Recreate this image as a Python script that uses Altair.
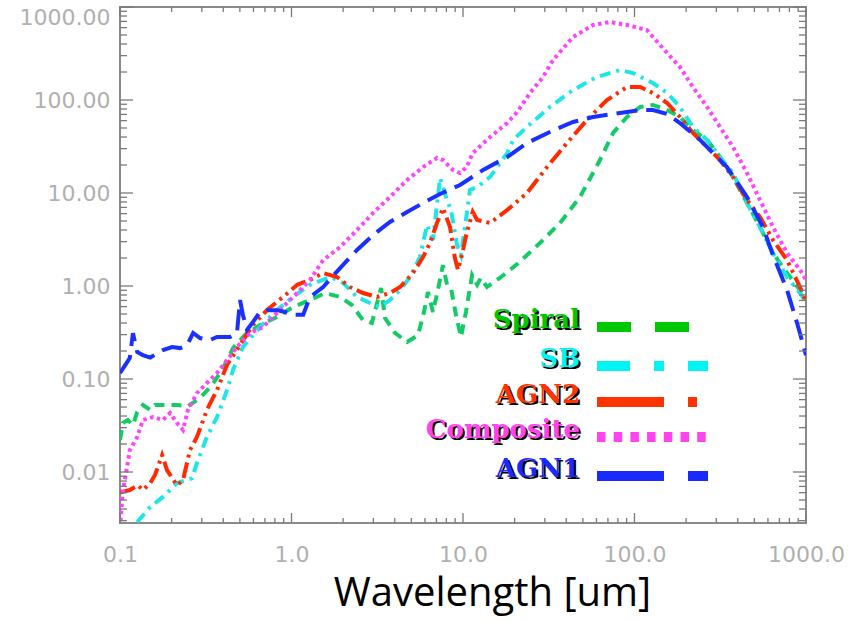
import altair as alt
import pandas as pd

W, H = 686, 516

# ---------------- data (wavelength in um, flux in arbitrary units) ----------------
spiral_wl = [0.100, 0.104, 0.111, 0.119, 0.126, 0.136, 0.150, 0.160, 0.183, 0.215, 0.249, 0.293,
             0.344, 0.394, 0.456, 0.535, 0.655, 0.823, 1.02, 1.28, 1.57, 1.92, 2.25, 2.61, 2.94,
             3.19, 3.33, 3.51, 4.01, 4.72, 5.47, 5.92, 6.25, 6.68, 7.14, 7.64, 8.07, 8.51, 9.10,
             9.73, 10.4, 11.3, 12.1, 12.7, 13.8, 16.4, 20.7, 28.1, 36.8, 48.1, 62.9, 75.0, 90.4,
             108, 128, 155, 184, 219, 265, 315, 375, 453, 539, 642, 775, 923, 1000]
spiral_fl = [0.0221, 0.0336, 0.0362, 0.032, 0.0442, 0.0525, 0.0464, 0.0525, 0.0525, 0.0525, 0.051,
             0.0625, 0.0861, 0.125, 0.215, 0.297, 0.381, 0.464, 0.594, 0.707, 0.841, 0.762, 0.625,
             0.43, 0.40, 0.707, 0.95, 0.453, 0.313, 0.25, 0.297, 0.525, 0.862, 0.525, 0.906, 1.68,
             1.03, 0.95, 0.488, 0.283, 0.525, 1.31, 1.03, 1.22, 0.976, 1.22, 1.72, 2.90, 4.76, 9.06,
             22.6, 44.2, 65.7, 84.1, 88.4, 78, 65.7, 47.6, 37.2, 24.4, 14.9, 7.80, 4.31, 2.26, 1.38,
             0.906, 0.707]

sb_wl = [0.126, 0.150, 0.178, 0.215, 0.246, 0.263, 0.281, 0.321, 0.368, 0.421, 0.456, 0.521, 0.655,
         0.823, 1.02, 1.28, 1.68, 2.00, 2.41, 2.87, 3.28, 3.75, 4.30, 4.91, 5.61, 6.17, 6.68, 7.35,
         8.07, 8.51, 9.23, 9.73, 10.4, 10.99, 12.1, 14.4, 18.1, 19.6, 23.6, 32.1, 43.8, 60.4, 82.3,
         98, 128, 155, 184, 219, 265, 315, 375, 453, 539, 642, 775, 923, 1000]
sb_fl = [0.0029, 0.0042, 0.0054, 0.0076, 0.0082, 0.0086, 0.0125, 0.0238, 0.039, 0.0762, 0.125, 0.221,
         0.362, 0.552, 0.762, 1.03, 1.25, 1.08, 0.762, 0.656, 0.594, 0.707, 0.906, 1.25, 2.05, 4.53,
         3.12, 14.5, 8.41, 6.56, 2.76, 2.15, 5.13, 10.8, 11.6, 14.9, 26.9, 37.2, 51.3, 84.1, 128,
         177, 210, 195, 152, 119, 84.1, 51.3, 37.2, 24.4, 16.4, 7.80, 4.31, 2.26, 1.25, 0.841, 0.673]

agn2_wl = [0.100, 0.114, 0.127, 0.136, 0.150, 0.160, 0.176, 0.188, 0.215, 0.233, 0.256, 0.281, 0.321,
           0.368, 0.421, 0.501, 0.596, 0.720, 0.892, 1.08, 1.28, 1.53, 1.84, 2.19, 2.61, 3.15, 3.75,
           4.30, 5.11, 5.85, 6.42, 7.05, 7.64, 8.40, 8.97, 9.35, 9.86, 10.5, 11.4, 12.1, 14.4, 18.1,
           23.6, 30.9, 40.4, 52.8, 69.1, 90.4, 108, 128, 155, 184, 219, 265, 315, 375, 453, 539, 642,
           775, 923, 1000]
agn2_fl = [0.0060, 0.0064, 0.0072, 0.0064, 0.0076, 0.0093, 0.0152, 0.0105, 0.0072, 0.0082, 0.0172,
           0.0238, 0.0464, 0.0762, 0.142, 0.232, 0.381, 0.552, 0.762, 1.03, 1.16, 1.38, 1.25, 0.976,
           0.841, 0.762, 0.841, 0.976, 1.38, 2.05, 2.90, 4.76, 6.9, 4.31, 2.0, 1.49, 2.15, 3.71, 6.25,
           5.13, 4.76, 6.56, 10.0, 19.0, 34.5, 60.9, 100, 138, 138, 119, 92.8, 65.7, 44.2, 31.3, 22.6,
           14.9, 8.41, 5.52, 3.12, 1.90, 0.976, 0.67]

comp_wl = [0.100, 0.104, 0.110, 0.114, 0.126, 0.136, 0.156, 0.178, 0.196, 0.215, 0.233, 0.249, 0.281,
           0.321, 0.368, 0.421, 0.481, 0.573, 0.682, 0.823, 0.980, 1.17, 1.28, 1.53, 1.92, 2.41, 2.99,
           3.75, 4.72, 5.85, 7.05, 7.64, 8.75, 9.61, 10.5, 11.4, 14.4, 18.1, 20.7, 24.6, 29.3, 33.5,
           43.8, 57.3, 72.0, 90.4, 118, 141, 184, 219, 265, 315, 375, 453, 539, 642, 775, 923, 1000]
comp_fl = [0.0025, 0.0064, 0.0113, 0.0172, 0.0238, 0.0362, 0.039, 0.0362, 0.0431, 0.0336, 0.0283,
           0.0464, 0.0706, 0.0906, 0.116, 0.160, 0.221, 0.313, 0.362, 0.513, 0.707, 0.976, 1.16, 1.90,
           2.62, 4.00, 6.10, 9.06, 13.8, 19.0, 23.8, 22.6, 17.7, 16.4, 19.0, 26.9, 40.0, 56.6, 74.3,
           119, 177, 269, 475, 640, 690, 640, 566, 390, 226, 138, 84.1, 51.3, 31.3, 16.4, 8.41, 4.31,
           2.26, 1.49, 1.16]

agn1_wl = [0.100, 0.107, 0.114, 0.119, 0.126, 0.136, 0.150, 0.178, 0.201, 0.224, 0.246, 0.267, 0.293,
           0.335, 0.368, 0.40, 0.438, 0.481, 0.501, 0.521, 0.55, 0.596, 0.655, 0.72, 0.823, 0.916,
           1.02, 1.17, 1.28, 1.53, 1.92, 2.41, 2.99, 3.75, 4.72, 5.85, 7.35, 9.61, 13.1, 18.1, 23.6,
           32.1, 43.8, 57.3, 82.3, 108, 128, 155, 184, 241, 346, 453, 561, 642, 775, 887, 1000]
agn1_fl = [0.116, 0.14, 0.168, 0.31, 0.195, 0.18, 0.17, 0.205, 0.221, 0.215, 0.23, 0.313, 0.276,
           0.263, 0.283, 0.283, 0.283, 0.313, 0.707, 0.488, 0.337, 0.41, 0.525, 0.55, 0.55, 0.525,
           0.49, 0.49, 0.76, 0.976, 1.56, 2.44, 3.53, 4.88, 6.25, 7.80, 9.75, 12.2, 17.7, 24.4, 34.5,
           45.3, 58, 65.7, 72.4, 78, 78, 70.6, 56.6, 37.2, 19.0, 9.06, 4.31, 2.15, 0.906, 0.40, 0.18]

legend_labels = ["Spiral", "SB", "AGN2", "Composite", "AGN1"]

x_major = [0.1, 1, 10, 100, 1000]
y_major = [0.01, 0.1, 1, 10, 100, 1000]
x_minor = [k * 10.0 ** e for e in range(-1, 3) for k in range(2, 10)]
y_minor = [k * 10.0 ** e for e in range(-3, 3) for k in range(2, 10) if k * 10.0 ** e >= 0.003]

# ---------------- styling ----------------
line_colors = ["#14cc66", "#1ee6e6", "#ff2a00", "#ff44ff", "#1a30ff"]
text_colors = ["#00c800", "#00f4f4", "#ff3300", "#ff44ee", "#1a2aff"]
plot_dashes = [[10, 7], [11, 6, 3, 6], [16, 5, 3, 5, 3, 5], [3.5, 3.5], [21, 9]]
legend_dashes = [[34, 24], [33, 24, 10, 24], [67, 24, 9, 24], [8.5, 8.2], [67, 24]]
legend_y = [320, 359, 395, 430, 469]

xscale = alt.Scale(type="log", domain=[0.1, 1000], nice=False)
yscale = alt.Scale(type="log", domain=[0.00283, 1000], nice=False)

xaxis = alt.Axis(values=x_major, format=".1f", ticks=False, domain=False, grid=False,
                 labelColor="#b0b0b0", labelFont="DejaVu Sans", labelFontSize=22,
                 labelPadding=21, labelFlush=False, labelOverlap=False,
                 title="Wavelength [um]", titleFont="Open Sans", titleFontSize=40,
                 titleFontWeight="normal", titleColor="#000000", titleX=372, titleY=82,
                 titleBaseline="alphabetic", titleAlign="center")
yaxis = alt.Axis(values=y_major, format=".2f", ticks=False, domain=False, grid=False,
                 labelColor="#b0b0b0", labelFont="DejaVu Sans", labelFontSize=22,
                 labelPadding=10, labelFlush=True, labelOverlap=False, title=None)

series = [(spiral_wl, spiral_fl), (sb_wl, sb_fl), (agn2_wl, agn2_fl), (comp_wl, comp_fl),
          (agn1_wl, agn1_fl)]

layers = []
for i, (wl, fl) in enumerate(series):
    df = pd.DataFrame({"wl": wl, "fl": fl})
    layers.append(
        alt.Chart(df).mark_line(clip=True, color=line_colors[i], strokeWidth=4,
                                strokeDash=plot_dashes[i], strokeCap="butt")
        .encode(x=alt.X("wl:Q", scale=xscale, axis=xaxis),
                y=alt.Y("fl:Q", scale=yscale, axis=yaxis))
    )

tick_color = "#7a7a7a"
for vals, ln in [(x_major, 10), (x_minor, 5)]:
    d = pd.DataFrame({"wl": vals})
    layers.append(alt.Chart(d).mark_rule(color=tick_color, strokeWidth=1.3).encode(
        x=alt.X("wl:Q", scale=xscale, axis=xaxis), y=alt.value(H), y2=alt.value(H - ln)))
    layers.append(alt.Chart(d).mark_rule(color=tick_color, strokeWidth=1.3).encode(
        x=alt.X("wl:Q", scale=xscale, axis=xaxis), y=alt.value(0), y2=alt.value(ln)))
for vals, ln in [(y_major, 13), (y_minor, 7)]:
    d = pd.DataFrame({"fl": vals})
    layers.append(alt.Chart(d).mark_rule(color=tick_color, strokeWidth=1.3).encode(
        y=alt.Y("fl:Q", scale=yscale, axis=yaxis), x=alt.value(0), x2=alt.value(ln)))
    layers.append(alt.Chart(d).mark_rule(color=tick_color, strokeWidth=1.3).encode(
        y=alt.Y("fl:Q", scale=yscale, axis=yaxis), x=alt.value(W), x2=alt.value(W - ln)))

# legend
for i, lab in enumerate(legend_labels):
    d = pd.DataFrame({"t": [lab]})
    yb = legend_y[i] + 1
    layers.append(alt.Chart(d).mark_text(align="right", baseline="alphabetic", font="DejaVu Serif",
                                         fontWeight="bold", fontSize=26, color="#000000",
                                         dx=2, dy=2)
                  .encode(x=alt.value(460), y=alt.value(yb), text="t:N"))
    layers.append(alt.Chart(d).mark_text(align="right", baseline="alphabetic", font="DejaVu Serif",
                                         fontWeight="bold", fontSize=26, color=text_colors[i])
                  .encode(x=alt.value(460), y=alt.value(yb), text="t:N"))
    layers.append(alt.Chart(d).mark_rule(color=text_colors[i], strokeWidth=10,
                                         strokeDash=legend_dashes[i], strokeCap="butt")
                  .encode(x=alt.value(477), x2=alt.value(588), y=alt.value(legend_y[i])))

chart = (
    alt.layer(*layers)
    .properties(width=W, height=H, autosize=alt.AutoSizeParams(type="none"),
                padding={"left": 120, "top": 7, "right": 61, "bottom": 98},
                background="white")
    .configure_view(stroke="#8a8a8a", strokeWidth=2)
)

chart.save("out.html", embed_options={"renderer": "svg", "actions": False})
